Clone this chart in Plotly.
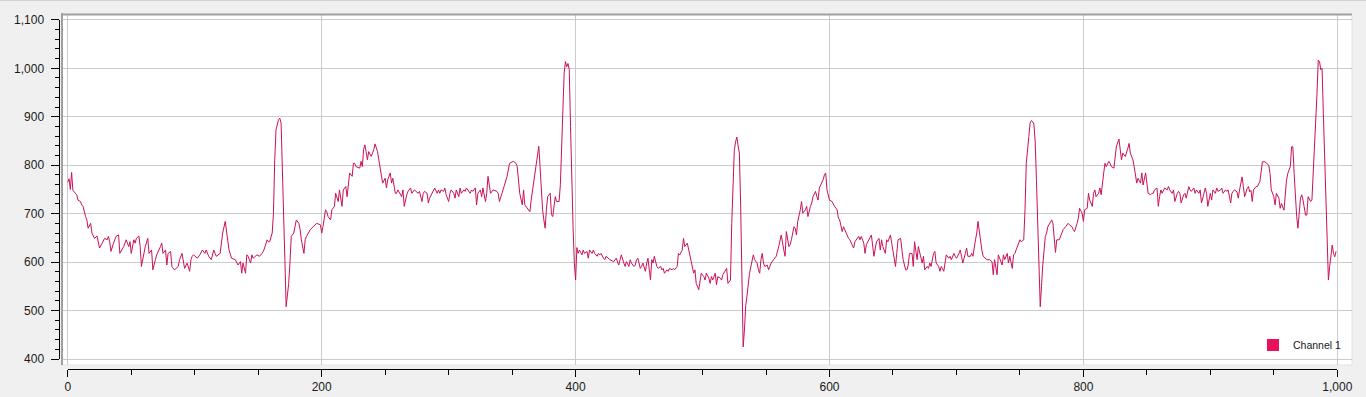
import plotly.graph_objects as go

# ---------------- data ----------------
sample_idx = [
    0, 1, 2, 3, 4, 6, 7, 8, 10, 11, 12, 14, 15, 16, 18, 19, 20, 21, 23, 24, 25, 27, 29, 31, 32, 33, 34, 36, 38, 40,
    41, 44, 46, 48, 49, 50, 52, 53, 54, 56, 57, 58, 60, 61, 63, 64, 66, 67, 69, 70, 73, 74, 75, 77, 78, 79, 81, 82,
    84, 87, 88, 90, 92, 94, 96, 97, 98, 99, 102, 104, 106, 108, 109, 111, 113, 115, 116, 117, 120, 122, 124, 126,
    127, 129, 132, 134, 136, 137, 138, 140, 141, 142, 144, 145, 146, 149, 151,
    153, 154, 155, 157, 158, 159, 161, 162, 163, 164, 166, 167, 168, 170, 171, 172, 174, 175, 176, 178, 179, 180,
    182, 183, 184, 186, 187, 188, 191, 193, 196, 199, 200, 201, 203, 204, 205, 207, 208, 210, 211, 213, 214, 216,
    217, 219, 220, 222, 224, 225, 226, 227, 230, 231, 232, 233, 234, 235, 236, 237, 239, 240, 241, 242, 244, 245,
    247, 248, 250, 251, 252, 254, 255, 256, 258, 259, 260, 262, 263, 264, 265, 267, 268, 270, 271, 273, 276, 277,
    279, 280, 281, 283, 284, 285, 287, 288, 289, 291, 292, 293, 294, 296, 297, 298, 300, 301, 302, 304, 305,
    306, 308, 309, 310, 312, 313, 314, 316, 317, 318, 319, 321, 322, 323, 325, 326, 327, 329, 330, 331, 332, 333,
    335, 338, 339, 340, 342, 343, 344, 346, 347, 348, 351, 353, 354, 355, 356, 358, 359, 360, 361, 363, 364, 365,
    367, 368, 369, 370, 371, 372, 373, 374, 375, 376, 377, 378, 380, 381, 382, 384, 385, 386, 387, 388, 389, 390,
    391, 392, 393, 394, 395, 396, 397, 398, 399, 400, 401, 402, 403, 405, 406, 407, 409, 410, 411, 413, 414, 415,
    417, 418, 419, 420, 422, 423, 424, 426, 427, 430, 432, 434, 435, 436, 438, 439, 440, 442, 443, 444, 446, 447,
    448, 449, 451, 452, 453, 455, 456, 457,
    459, 460, 461, 462, 464, 465, 467, 468, 469, 470, 472, 473, 474, 476, 477, 478, 480, 481, 482, 484, 485, 486,
    488, 489, 490, 491, 493, 494, 495, 497, 498, 499, 501, 502, 503, 505, 506, 507, 508, 510, 511, 512, 514, 515,
    516, 518, 519, 520, 522, 523, 524, 525, 526, 527, 528, 529, 530, 531, 532, 533, 534, 535, 536, 537, 538, 539,
    540, 541, 543, 544, 545, 546, 547, 548, 549, 551, 552, 553, 554, 556, 557, 558, 560, 561, 562, 564, 565, 566,
    568, 569, 570, 572, 573, 574, 575, 577, 578, 579, 581, 582, 583, 585, 586, 587, 589, 590, 591, 592, 594, 595,
    596, 597, 598, 599, 600, 602, 603, 604, 606, 607, 608, 610, 611, 612,
    614, 615, 616, 617, 619, 620, 621, 623, 624, 625, 627, 628, 629, 631, 632, 633, 635, 636, 637, 639, 640, 641,
    642, 644, 645, 646, 648, 649, 650, 652, 653, 654, 656, 657, 658, 660, 661, 662, 663, 665, 666, 667, 669, 670,
    671, 673, 674, 675, 677, 678, 679, 680, 682, 683, 684, 686, 687, 688, 690, 691, 692, 694, 695, 696, 698, 699,
    700, 702, 703, 704, 705, 707, 708, 709, 711, 712, 713, 715, 716, 717, 718, 719, 720, 721, 723, 724, 726, 728,
    729, 730, 732, 733, 734, 736, 737, 738, 740, 741, 742, 744, 745, 746, 747, 749, 750, 751, 753, 754, 755, 757,
    758, 759, 760, 761, 762, 763, 764, 765, 766,
    767, 768, 770, 771, 772, 774, 775, 776, 778, 779, 781, 783, 784, 786, 787, 788, 789, 791, 792, 793, 795, 796,
    797, 799, 800, 801, 803, 804, 805, 807, 808, 809, 810, 812, 813, 814, 816, 817, 818, 820, 821, 822, 824, 825,
    826, 828, 829, 830, 831, 832, 833, 835, 836, 837, 839, 840, 841, 842, 843, 845, 846, 847, 849, 850, 851, 853,
    854, 855, 856, 858, 859, 860, 861, 862, 864, 866, 867, 868, 870, 871, 872, 874, 875, 876, 877, 879, 880, 881,
    883, 884, 885, 887, 888, 889, 891, 892, 893, 895, 896, 897, 898, 900, 901, 902, 904, 905, 906, 908, 909, 910,
    912, 913, 914, 916, 917, 918, 919,
    921, 922, 923, 925, 926, 927, 929, 930, 931, 932, 933, 934, 936, 937, 939, 940, 941, 943, 944, 946, 947, 948,
    950, 951, 952, 954, 955, 956, 958, 959, 960, 961, 963, 964, 965, 966, 967, 968, 969, 970, 971, 972, 973, 975,
    976, 977, 979, 980, 981, 982, 984, 985, 986, 987, 988, 989, 990, 991, 992, 993, 994, 995, 996, 997, 998, 999,
]

channel_1 = [
    765, 772, 750, 785, 748, 742, 739, 728, 725, 718, 715, 694, 687, 670, 680, 660, 653, 649, 654, 642, 629, 639, 649, 646, 653, 642, 622, 639, 653, 656,
    618, 632, 646, 632, 642, 618, 646, 639, 649, 654, 632, 591, 618, 632, 649, 618, 625, 584, 605, 615, 632, 639, 618, 625, 594, 618, 622, 591,
    584, 591, 605, 618, 587, 598, 581, 605, 612, 615, 608, 615, 625, 618, 625, 612, 605, 625, 618, 612, 618, 660, 684, 646,
    625, 608, 605, 594, 601, 577, 598, 577, 615, 612, 598, 615, 608, 615, 612,
    618, 622, 629, 646, 642, 642, 660, 701, 811, 873, 894, 897, 887, 728, 605, 508, 556, 598, 653, 660, 673, 687,
    680, 667, 646, 618, 646, 653, 667, 673, 680, 677, 660, 673, 708, 704, 694, 687, 708, 715, 742, 725, 749, 715,
    749, 756, 735, 784, 777, 804, 804, 797, 794, 808, 797, 832, 842, 828, 811, 828, 818, 825, 832, 844, 828, 811,
    784, 763, 773, 753, 770, 784, 763, 773, 742, 742, 749, 739, 735, 749, 715, 739, 746, 753, 742, 749, 742, 746,
    725, 742, 746, 742, 722, 732, 742, 749, 753, 742, 749, 742, 749, 746, 753, 739, 725, 742, 749, 742, 732,
    749, 735, 753, 742, 749, 746, 753, 746, 742, 749, 746, 753, 718, 742, 749, 735, 753, 725, 742, 777, 756, 742,
    749, 746, 742, 725, 742, 753, 759, 777, 790, 804, 808, 804, 797, 770, 742, 718, 749, 718, 715, 708, 704, 728,
    763, 777, 797, 814, 839, 797, 749, 708, 687, 670, 708, 735, 742, 698, 694, 735, 725, 725, 725, 760, 845, 928,
    990, 1014, 1003, 1010, 997, 880, 760, 673, 598, 563, 630, 618, 625, 615, 625, 618, 622, 608, 625, 618, 625, 618,
    612, 618, 615, 618, 608, 605, 612, 608, 605, 601, 608, 594, 608, 615, 598, 591, 601, 591, 605, 598, 591, 594,
    605, 608, 587, 591, 598, 581, 598, 608,
    563, 605, 598, 612, 591, 587, 591, 584, 587, 577, 584, 581, 587, 584, 587, 584, 591, 618, 615, 625, 649, 632,
    639, 625, 612, 605, 577, 584, 556, 543, 563, 577, 570, 563, 577, 567, 556, 570, 563, 577, 553, 570, 567, 563,
    574, 584, 587, 556, 563, 680, 770, 830, 848, 858, 840, 825, 720, 600, 425, 460, 510, 530, 556, 577, 590, 605,
    615, 605, 598, 584, 577, 605, 618, 598, 591, 594, 584, 591, 598, 605, 608, 612, 632, 642, 656, 625, 612, 663,
    632, 636, 646, 673, 670, 656, 684, 708, 725, 701, 708, 715, 694, 715, 722, 735, 746, 735, 728, 753, 763, 770,
    780, 784, 749, 739, 728, 725, 718, 715, 708, 691, 687, 663, 673, 667,
    653, 649, 646, 639, 629, 642, 646, 653, 646, 653, 639, 618, 636, 646, 653, 656, 612, 632, 642, 649, 625, 646,
    632, 618, 646, 642, 656, 639, 625, 591, 618, 646, 649, 625, 605, 584, 584, 594, 618, 618, 591, 642, 605, 632,
    618, 598, 612, 584, 591, 587, 598, 591, 618, 622, 598, 591, 581, 591, 581, 605, 615, 608, 612, 605, 618, 612,
    608, 618, 625, 612, 598, 618, 629, 612, 612, 618, 612, 646, 660, 684, 660, 646, 625, 612, 608, 605, 605, 601,
    574, 605, 574, 615, 608, 594, 615, 605, 618, 598, 612, 587, 615, 618, 625, 639, 646, 642, 646, 708, 804, 859,
    887, 892, 890, 885, 850, 770, 667, 563, 508,
    550, 594, 653, 660, 673, 684, 687, 680, 620, 646, 646, 660, 667, 673, 677, 680, 677, 673, 667, 663, 680, 691,
    711, 701, 684, 708, 711, 742, 728, 715, 742, 749, 735, 742, 753, 739, 784, 804, 797, 808, 804, 797, 794, 818,
    839, 854, 832, 811, 825, 821, 818, 835, 845, 825, 811, 797, 780, 763, 773, 763, 784, 759, 784, 763, 742, 739,
    742, 742, 749, 753, 715, 735, 749, 742, 753, 749, 756, 749, 742, 749, 725, 742, 746, 742, 722, 739, 742, 732,
    756, 749, 746, 753, 742, 749, 742, 749, 722, 742, 753, 742, 715, 742, 728, 749, 742, 753, 746, 749, 753, 742,
    749, 746, 749, 722, 742, 746, 749,
    745, 732, 749, 776, 756, 735, 752, 756, 745, 748, 725, 749, 756, 756, 766, 783, 807, 807, 804, 800, 783, 749,
    735, 718, 742, 732, 711, 721, 707, 742, 769, 783, 797, 838, 838, 783, 728, 694, 670, 701, 732, 739, 728, 697,
    697, 735, 725, 728, 776, 852, 948, 1017, 1014, 997, 1000, 907, 811, 728, 618, 563, 591, 618, 635, 618, 611, 622,
]

series_name = "Channel 1"
x_ticks = [0, 200, 400, 600, 800, 1000]
y_ticks = [400, 500, 600, 700, 800, 900, 1000, 1100]
x_tick_text = [f"{v:,}" for v in x_ticks]
y_tick_text = [f"{v:,}" for v in y_ticks]

# ---------------- styling / geometry ----------------
LINE_COLOR = "#ca115a"
LEGEND_COLOR = "#e8115c"
GRID_COLOR = "#cbcbcb"
BG = "#f0f0f0"
FONT = "Liberation Sans"

W, H = 1366, 397
ML, MR, MT, MB = 40, 6, 6, 20
PW = W - ML - MR
PH = H - MT - MB


def fx(px):
    return (px - ML) / PW


def fy(py):
    return (H - MB - py) / PH


# pixel placement of the value frame
X0_PX, X1_PX = 67.8, 1337.3      # x = 0 and x = 1000
Y1_PX, Y0_PX = 19.85, 359.0      # y = 1100 and y = 400
BOX_L, BOX_R, BOX_T, BOX_B = 62.0, 1352.0, 15.0, 365.0
YAX_PX = 58.5
XAX_PX = 368.5

xs = (X1_PX - X0_PX) / (x_ticks[-1] - x_ticks[0])
ys = (Y0_PX - Y1_PX) / (y_ticks[-1] - y_ticks[0])
x_lo = x_ticks[0] + (BOX_L - X0_PX) / xs
x_hi = x_ticks[0] + (BOX_R - X0_PX) / xs
y_hi = y_ticks[-1] + (Y1_PX - BOX_T) / ys
y_lo = y_ticks[0] - (BOX_B - Y0_PX) / ys

fig = go.Figure()
fig.add_trace(go.Scatter(
    x=sample_idx, y=channel_1, mode="lines",
    line=dict(color=LINE_COLOR, width=1),
    name=series_name, showlegend=False, hoverinfo="skip",
    xaxis="x", yaxis="y",
))
# legend entry (square swatch) living on the tick axes
fig.add_trace(go.Scatter(
    x=[None], y=[None], mode="markers",
    marker=dict(symbol="square", size=8, color=LEGEND_COLOR),
    name=series_name, showlegend=True,
    xaxis="x2", yaxis="y2",
))

tickfont = dict(family=FONT, size=12, color="#1a1a1a")

fig.update_layout(
    template="none",
    width=W, height=H, autosize=False,
    margin=dict(l=ML, r=MR, t=MT, b=MB, pad=0, autoexpand=False),
    paper_bgcolor=BG,
    plot_bgcolor="rgba(0,0,0,0)",
    font=dict(family=FONT, size=12, color="#1a1a1a"),
    xaxis=dict(
        domain=[fx(BOX_L), fx(BOX_R)], range=[x_lo, x_hi], anchor="y",
        tickmode="array", tickvals=x_ticks, showticklabels=False, ticks="",
        showgrid=True, gridcolor=GRID_COLOR, gridwidth=1, automargin=False,
        zeroline=False, showline=False, fixedrange=True,
    ),
    yaxis=dict(
        domain=[fy(BOX_B), fy(BOX_T)], range=[y_lo, y_hi], anchor="x",
        tickmode="array", tickvals=y_ticks, showticklabels=False, ticks="",
        showgrid=True, gridcolor=GRID_COLOR, gridwidth=1, automargin=False,
        zeroline=False, showline=False, fixedrange=True,
    ),
    xaxis2=dict(
        domain=[fx(X0_PX), fx(X1_PX)], range=[x_ticks[0], x_ticks[-1]],
        anchor="free", position=fy(XAX_PX), side="bottom",
        tickmode="array", tickvals=x_ticks, ticktext=x_tick_text,
        ticks="outside", ticklen=7, tickwidth=1, tickcolor="#000000",
        showline=True, linecolor="#000000", linewidth=1, automargin=False,
        showgrid=False, zeroline=False, fixedrange=True,
        tickfont=tickfont,
        minor=dict(tickmode="linear", tick0=0, dtick=50, ticks="outside",
                   ticklen=5, tickwidth=1, tickcolor="#000000", showgrid=False),
    ),
    yaxis2=dict(
        domain=[fy(Y0_PX), fy(Y1_PX)], range=[y_ticks[0], y_ticks[-1]],
        anchor="free", position=fx(YAX_PX), side="left",
        tickmode="array", tickvals=y_ticks, ticktext=y_tick_text,
        ticks="outside", ticklen=8, tickwidth=1, tickcolor="#000000",
        showline=True, linecolor="#000000", linewidth=1, automargin=False,
        showgrid=False, zeroline=False, fixedrange=True,
        tickfont=tickfont, ticklabelstandoff=4,
        minor=dict(tickmode="linear", tick0=0, dtick=20, ticks="outside",
                   ticklen=4, tickwidth=1, tickcolor="#000000", showgrid=False),
    ),
    legend=dict(
        xref="container", yref="container",
        x=1253 / W, xanchor="left", y=1 - 345 / H, yanchor="middle",
        bgcolor="rgba(0,0,0,0)", borderwidth=0,
        font=dict(family=FONT, size=10.5, color="#1a1a1a"),
        itemsizing="constant",
    ),
    shapes=[
        # white value area
        dict(type="rect", xref="paper", yref="paper",
             x0=fx(BOX_L), x1=fx(BOX_R), y0=fy(BOX_B), y1=fy(BOX_T),
             fillcolor="#ffffff", line=dict(width=0), layer="below"),
        # sunken frame: dark left/top, light right/bottom
        dict(type="line", xref="paper", yref="paper",
             x0=fx(BOX_L), x1=fx(BOX_L), y0=fy(BOX_B), y1=fy(BOX_T - 2),
             line=dict(color="#a0a0a0", width=2), layer="above"),
        dict(type="line", xref="paper", yref="paper",
             x0=fx(BOX_L - 1), x1=fx(BOX_R), y0=fy(BOX_T - 0.5), y1=fy(BOX_T - 0.5),
             line=dict(color="#a0a0a0", width=2), layer="above"),
        dict(type="line", xref="paper", yref="paper",
             x0=fx(BOX_R), x1=fx(BOX_R), y0=fy(BOX_B), y1=fy(BOX_T),
             line=dict(color="#e2e2e2", width=1), layer="below"),
        dict(type="line", xref="paper", yref="paper",
             x0=fx(BOX_L), x1=fx(BOX_R), y0=fy(BOX_B), y1=fy(BOX_B),
             line=dict(color="#e2e2e2", width=1), layer="below"),
        # window edge at the very top
        dict(type="line", xref="paper", yref="paper",
             x0=fx(0), x1=fx(W), y0=fy(0.5), y1=fy(0.5),
             line=dict(color="#d2d2d2", width=1), layer="below"),
    ],
)

fig.write_html("out.html", config={"responsive": False, "displayModeBar": False})
